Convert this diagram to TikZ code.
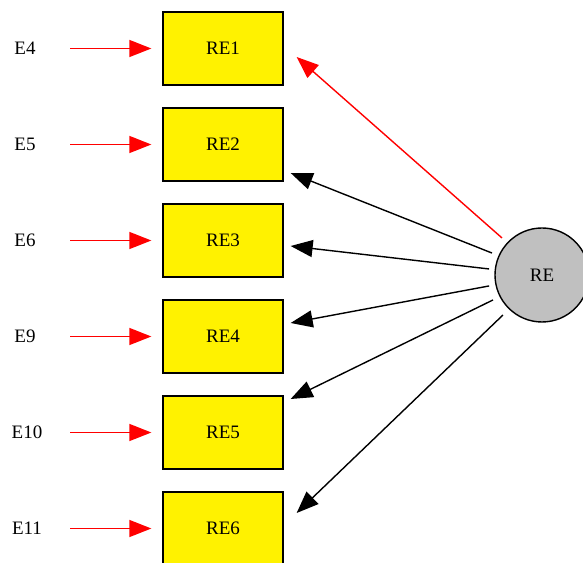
\documentclass[tikz,border=0pt]{standalone}
\usepackage{fontspec}
\setmainfont{Liberation Serif}
\usetikzlibrary{arrows.meta}
\definecolor{silver}{RGB}{192,192,192}
\tikzset{
  obsbox/.style={draw=black, line width=1.3pt, fill=yellow, minimum width=120pt, minimum height=73pt, inner sep=0pt},
  latentcirc/.style={circle, draw=black, line width=1.4pt, fill=silver, minimum size=94pt, inner sep=0pt},
  errlabel/.style={inner sep=0pt},
  errarrow/.style={draw=red, line width=1.4pt, -{Triangle[length=22pt,width=17pt]}},
  loadarrow/.style={draw=black, line width=1.4pt, -{Triangle[length=22pt,width=17pt]}}
}
\begin{document}
\begin{tikzpicture}[x=1pt, y=1pt]
                        \useasboundingbox (0,0) rectangle (583,562);
                        {\fontsize{19}{22}\selectfont

                        % Indicator boxes
                        \node [obsbox] (re1) at (223,513.5) {RE1};
                        \node [obsbox] (re2) at (223,417.5) {RE2};
                        \node [obsbox] (re3) at (223,321.5) {RE3};
                        \node [obsbox] (re4) at (223,225.5) {RE4};
                        \node [obsbox] (re5) at (223,129.5) {RE5};
                        \node [obsbox] (re6) at (223,33.5) {RE6};

                        % Latent factor RE
                        \node [latentcirc] (re) at (542,287) {RE};

                        % Error terms
                        \node [errlabel] (e4) at (25,513.5) {E4};
                        \node [errlabel] (e5) at (25,417.5) {E5};
                        \node [errlabel] (e6) at (25,321.5) {E6};
                        \node [errlabel] (e9) at (25,225.5) {E9};
                        \node [errlabel] (e10) at (27,129.5) {E10};
                        \node [errlabel] (e11) at (27,33.5) {E11};

                        % Drawing error arrows
                        \draw [errarrow] ([xshift=45]e4.center) -- ([xshift=-11]re1.west);%
                        \draw [errarrow] ([xshift=45]e5.center) -- ([xshift=-11]re2.west);%
                        \draw [errarrow] ([xshift=45]e6.center) -- ([xshift=-11]re3.west);%
                        \draw [errarrow] ([xshift=45]e9.center) -- ([xshift=-11]re4.west);%
                        \draw [errarrow] ([xshift=43]e10.center) -- ([xshift=-11]re5.west);%
                        \draw [errarrow] ([xshift=43]e11.center) -- ([xshift=-11]re6.west);%

                        % Drawing loadings RE -> RE1 ... RE6
                        \draw [errarrow] ([shift={(137.2:54.5)}]re.center) -- ([shift={(13,-8.5)}]re1.east);%
                        \draw [loadarrow] ([shift={(156.3:54.6)}]re.center) -- ([shift={(7,-28.5)}]re2.east);%
                        \draw [loadarrow] ([shift={(173.5:53.3)}]re.center) -- ([shift={(7,-5.5)}]re3.east);%
                        \draw [loadarrow] ([shift={(191.7:54)}]re.center) -- ([shift={(7,13.5)}]re4.east);%
                        \draw [loadarrow] ([shift={(207:55)}]re.center) -- ([shift={(7,33.5)}]re5.east);%
                        \draw [loadarrow] ([shift={(225.7:55.9)}]re.center) -- ([shift={(13,15.5)}]re6.east);%
                        }
                    \end{tikzpicture}
\end{document}
